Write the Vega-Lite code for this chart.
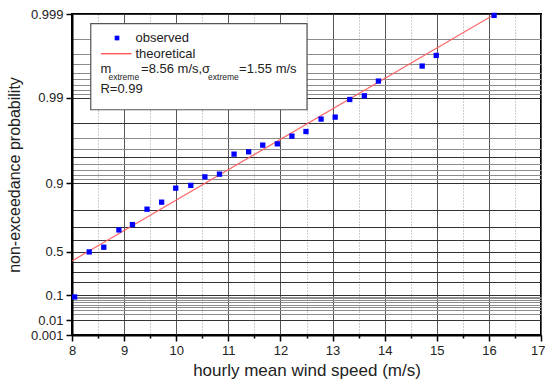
{
  "$schema": "https://vega.github.io/schema/vega-lite/v6.json",
  "width": 469,
  "height": 321,
  "autosize": {"type": "none"},
  "padding": {"left": 72, "top": 14, "right": 4, "bottom": 48},
  "config": {
    "view": {"stroke": "#000", "strokeWidth": 2},
    "font": "Liberation Sans",
    "axis": {
      "labelFont": "Liberation Sans",
      "titleFont": "Liberation Sans",
      "labelFontSize": 13,
      "titleFontSize": 16,
      "titleFontWeight": "normal",
      "labelColor": "#222",
      "titleColor": "#222",
      "domainColor": "#000",
      "domainWidth": 2,
      "tickColor": "#000",
      "tickWidth": 1.5,
      "labelOverlap": false,
      "labelFlush": false,
      "labelBound": false,
      "gridOpacity": 1,
      "gridWidth": 1
    }
  },
  "datasets": {
    "observed": [
      {"speed": 8.05, "z": -0.885},
      {"speed": 8.33, "z": 0.355},
      {"speed": 8.61, "z": 0.485},
      {"speed": 8.9, "z": 0.961},
      {"speed": 9.16, "z": 1.108},
      {"speed": 9.44, "z": 1.532},
      {"speed": 9.72, "z": 1.725},
      {"speed": 9.99, "z": 2.111},
      {"speed": 10.28, "z": 2.188},
      {"speed": 10.55, "z": 2.422},
      {"speed": 10.83, "z": 2.497},
      {"speed": 11.11, "z": 3.048},
      {"speed": 11.39, "z": 3.112},
      {"speed": 11.66, "z": 3.296},
      {"speed": 11.94, "z": 3.332},
      {"speed": 12.22, "z": 3.544},
      {"speed": 12.49, "z": 3.671},
      {"speed": 12.78, "z": 4.013},
      {"speed": 13.05, "z": 4.068},
      {"speed": 13.33, "z": 4.553},
      {"speed": 13.61, "z": 4.655},
      {"speed": 13.88, "z": 5.06},
      {"speed": 14.72, "z": 5.474},
      {"speed": 14.99, "z": 5.766},
      {"speed": 16.1, "z": 6.868}
    ],
    "theoretical": [
      {"speed": 8.0, "z": 0.107},
      {"speed": 16.12, "z": 6.907}
    ],
    "legendBox": [
      {"speed": 8.36, "speed2": 12.51, "z": 4.27, "z2": 6.64}
    ],
    "legendSymbol": [
      {"speed": 8.864, "z": 6.246}
    ],
    "legendLine": [
      {"speed": 8.557, "speed2": 9.141, "z": 5.813}
    ],
    "legendText": [
      {"speed": 9.217, "z": 6.246, "t": "observed"},
      {"speed": 9.217, "z": 5.813, "t": "theoretical"},
      {"speed": 8.545, "z": 5.391, "t": "m"},
      {"speed": 9.325, "z": 5.391, "t": "=8.56 m/s,σ"},
      {"speed": 11.207, "z": 5.391, "t": "=1.55 m/s"},
      {"speed": 8.545, "z": 4.85, "t": "R=0.99"}
    ],
    "legendSub": [
      {"speed": 8.699, "z": 5.175, "t": "extreme"},
      {"speed": 10.611, "z": 5.175, "t": "extreme"}
    ]
  },
  "encoding": {
    "x": {
      "field": "speed", "type": "quantitative",
      "scale": {"domain": [8, 17], "nice": false, "zero": false},
      "axis": {
        "title": "hourly mean wind speed (m/s)",
        "titleFontSize": 17,
        "values": [8, 8.5, 9, 9.5, 10, 10.5, 11, 11.5, 12, 12.5, 13, 13.5, 14, 14.5, 15, 15.5, 16, 16.5, 17],
        "labelExpr": "datum.value % 1 == 0 ? format(datum.value, 'd') : ''",
        "labelAlign": {"condition": {"test": "datum.value == 17", "value": "right"}, "value": "center"},
        "labelOffset": {"condition": {"test": "datum.value == 17", "value": 4}, "value": 0},
        "tickSize": {"condition": {"test": "datum.value % 1 == 0", "value": 6}, "value": 3},
        "gridColor": {"condition": {"test": "datum.value % 1 == 0", "value": "#555"}, "value": "#9a9a9a"},
        "gridDash": {"condition": {"test": "datum.value % 1 == 0", "value": []}, "value": [1, 2]},
        "labelPadding": 3,
        "titlePadding": 5
      }
    },
    "y": {
      "field": "z", "type": "quantitative",
      "scale": {"domain": [-1.9326, 6.9073], "nice": false, "zero": false},
      "axis": {
        "title": "non-exceedance probability",
        "values": [-1.9326, -1.5272, -1.364, -1.2546, -1.169, -1.0972, -1.0344, -0.9781, -0.9265, -0.8788, -0.834, -0.4759, -0.1856, 0.0874, 0.3665, 0.6717, 1.0309, 1.4999, 2.2504, 2.3612, 2.4843, 2.6232, 2.7826, 2.9702, 3.1985, 3.4913, 3.9019, 4.6001, 4.706, 4.8243, 4.9583, 5.113, 5.2958, 5.5195, 5.8076, 6.2136, 6.9073],
        "labelExpr": "datum.value == 6.9073 ? '0.999' : datum.value == 4.6001 ? '0.99' : datum.value == 2.2504 ? '0.9' : datum.value == 0.3665 ? '0.5' : datum.value == -0.834 ? '0.1' : datum.value == -1.5272 ? '0.01' : datum.value == -1.9326 ? '0.001' : ''",
        "tickSize": {"condition": {"test": "indexof([6.9073, 4.6001, 2.2504, 0.3665, -0.834, -1.5272, -1.9326], datum.value) >= 0", "value": 6}, "value": 0},
        "gridColor": {"condition": {"test": "indexof([6.9073, 4.6001, 3.9019, 2.9702, 2.2504, 1.4999, 1.0309, 0.6717, 0.3665, 0.0874, -0.1856, -0.4759, -0.834, -1.5272, -1.9326], datum.value) >= 0", "value": "#333"}, "value": "#8c8c8c"},
        "labelPadding": 3,
        "titlePadding": 8
      }
    }
  },
  "layer": [
    {
      "data": {"name": "theoretical"},
      "mark": {"type": "line", "color": "#ff5a5a", "strokeWidth": 1.2, "opacity": 0.9}
    },
    {
      "data": {"name": "observed"},
      "mark": {"type": "point", "shape": "square", "filled": true, "color": "#0000ff", "size": 28, "opacity": 1}
    },
    {
      "data": {"name": "legendBox"},
      "mark": {"type": "rect", "fill": "#fff", "stroke": "#555", "strokeWidth": 1.2},
      "encoding": {
        "x2": {"field": "speed2"},
        "y2": {"field": "z2"}
      }
    },
    {
      "data": {"name": "legendSymbol"},
      "mark": {"type": "point", "shape": "square", "filled": true, "color": "#0000ff", "size": 22, "opacity": 1}
    },
    {
      "data": {"name": "legendLine"},
      "mark": {"type": "rule", "color": "#ff3a3a", "strokeWidth": 1.2},
      "encoding": {
        "x2": {"field": "speed2"}
      }
    },
    {
      "data": {"name": "legendText"},
      "mark": {"type": "text", "align": "left", "baseline": "middle", "font": "Liberation Sans", "fontSize": 13, "color": "#222"},
      "encoding": {
        "text": {"field": "t"}
      }
    },
    {
      "data": {"name": "legendSub"},
      "mark": {"type": "text", "align": "left", "baseline": "middle", "font": "Liberation Sans", "fontSize": 8.5, "color": "#222"},
      "encoding": {
        "text": {"field": "t"}
      }
    }
  ]
}
